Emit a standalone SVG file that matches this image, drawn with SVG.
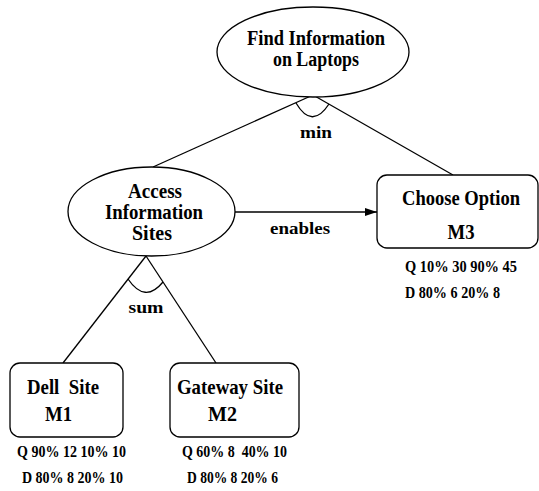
<svg xmlns="http://www.w3.org/2000/svg" width="539" height="491" viewBox="0 0 539 491">
<defs>
<style>
.shape{fill:#fff;stroke:#000;stroke-width:1.3}
.ln{fill:none;stroke:#000;stroke-width:1.3}
text{font-family:'Liberation Serif','Times New Roman',serif;font-weight:bold;fill:#000;text-anchor:middle}
.lab{font-size:20px}
.blab{font-size:21px}
.small{font-size:16px}
</style>
<marker id="arr" markerWidth="12" markerHeight="8" refX="12" refY="4" orient="auto" markerUnits="userSpaceOnUse">
<path d="M0,0 L12,4 L0,8 Z" fill="#000"/>
</marker>
</defs>
<rect width="539" height="491" fill="#fff"/>
<g id="connectors" font-family="Liberation Serif, serif">
<line class="ln" x1="313" y1="95" x2="153" y2="167"/>
<line class="ln" x1="313" y1="95" x2="453" y2="175"/>
<path class="ln" d="M296,103 Q312,130 329,104"/>
<text class="small" x="316" y="138" textLength="32" lengthAdjust="spacingAndGlyphs">min</text>
<line class="ln" x1="235" y1="212" x2="377" y2="212" marker-end="url(#arr)"/>
<text class="small" x="300" y="234" textLength="60" lengthAdjust="spacingAndGlyphs">enables</text>
<line class="ln" x1="146" y1="256" x2="63" y2="363"/>
<line class="ln" x1="146" y1="256" x2="216" y2="363"/>
<path class="ln" d="M128,279 Q145,304 163,282"/>
<text class="small" x="146" y="313" textLength="35" lengthAdjust="spacingAndGlyphs">sum</text>
</g>
<g id="find-info" font-family="Liberation Serif, serif">
<ellipse class="shape" cx="313" cy="52" rx="96" ry="45"/>
<text class="lab" x="316" y="45" textLength="138" lengthAdjust="spacingAndGlyphs">Find Information</text>
<text class="lab" x="316" y="66" textLength="86" lengthAdjust="spacingAndGlyphs">on Laptops</text>
</g>
<g id="access" font-family="Liberation Serif, serif">
<ellipse class="shape" cx="151.5" cy="211.5" rx="83.5" ry="44.5"/>
<text class="lab" x="155" y="198" textLength="54" lengthAdjust="spacingAndGlyphs">Access</text>
<text class="lab" x="154" y="219" textLength="98" lengthAdjust="spacingAndGlyphs">Information</text>
<text class="lab" x="152" y="240" textLength="40" lengthAdjust="spacingAndGlyphs">Sites</text>
</g>
<g id="choose" font-family="Liberation Serif, serif">
<rect class="shape" x="377" y="175" width="161" height="73" rx="10"/>
<text class="blab" x="461" y="205" textLength="118" lengthAdjust="spacingAndGlyphs">Choose Option</text>
<text class="blab" x="461" y="239" textLength="27" lengthAdjust="spacingAndGlyphs">M3</text>
<text class="small" x="461" y="272" textLength="112" lengthAdjust="spacingAndGlyphs">Q 10% 30 90% 45</text>
<text class="small" x="452.5" y="298" textLength="95" lengthAdjust="spacingAndGlyphs">D 80% 6 20% 8</text>
</g>
<g id="dell" font-family="Liberation Serif, serif">
<rect class="shape" x="10" y="363" width="113" height="74" rx="10"/>
<text class="blab" x="63" y="394" textLength="72" lengthAdjust="spacingAndGlyphs" xml:space="preserve">Dell  Site</text>
<text class="blab" x="58.5" y="421" textLength="27" lengthAdjust="spacingAndGlyphs">M1</text>
<text class="small" x="71.5" y="457" textLength="109" lengthAdjust="spacingAndGlyphs">Q 90% 12 10% 10</text>
<text class="small" x="72.5" y="483" textLength="101" lengthAdjust="spacingAndGlyphs">D 80% 8 20% 10</text>
</g>
<g id="gateway" font-family="Liberation Serif, serif">
<rect class="shape" x="170" y="363" width="129" height="74" rx="10"/>
<text class="blab" x="230" y="394" textLength="106" lengthAdjust="spacingAndGlyphs">Gateway Site</text>
<text class="blab" x="222.5" y="421" textLength="29" lengthAdjust="spacingAndGlyphs">M2</text>
<text class="small" x="234.5" y="457" textLength="105" lengthAdjust="spacingAndGlyphs" xml:space="preserve">Q 60% 8  40% 10</text>
<text class="small" x="232.5" y="483" textLength="91" lengthAdjust="spacingAndGlyphs">D 80% 8 20% 6</text>
</g>
</svg>
